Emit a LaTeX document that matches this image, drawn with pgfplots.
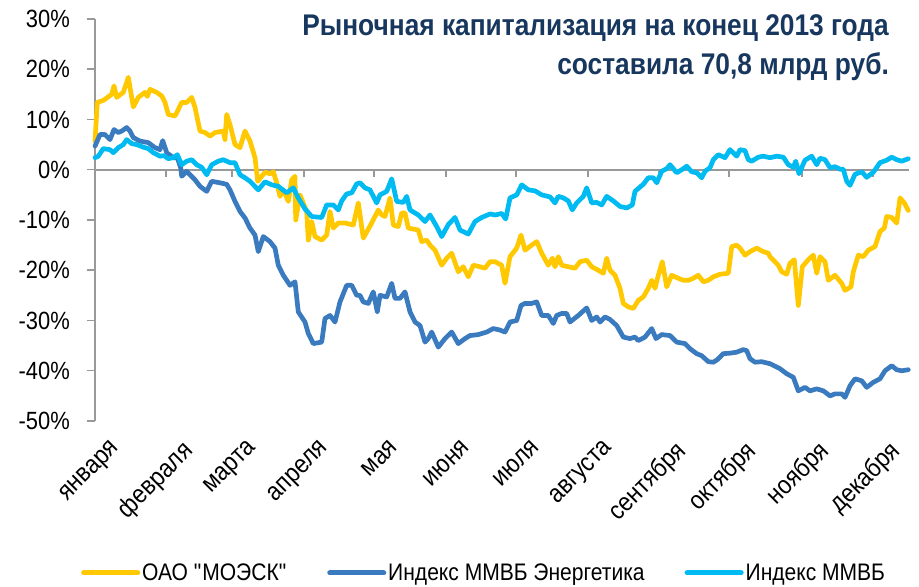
\documentclass[border=0pt]{standalone}
\usepackage{fontspec}
\setmainfont{Liberation Sans}[FakeStretch=0.88]
\usepackage{pgfplots}
\pgfplotsset{compat=1.18}
\definecolor{cY}{HTML}{FFC800}
\definecolor{cB}{HTML}{3A7ABE}
\definecolor{cC}{HTML}{00BAF2}
\definecolor{cT}{HTML}{17375E}
\definecolor{axg}{HTML}{999999}

\pgfplotstableread{
x y
0 5.7
2.3 13.4
8.3 13.8
16.7 15
19 16.7
21.7 14.4
28.3 15.4
33.3 18.4
38.3 12.5
43.3 14.4
50 15.4
52.3 14.6
55 16
61.7 15.4
66.7 14.7
70 13.4
73.3 11
80 10.7
83.3 12
86.7 13.4
91.7 13.4
96.7 14.4
100 12.4
105 7.7
110 7.4
115 6.7
120 7.4
128.3 7.7
130 6
131.7 11
135 9
140 5
145 4.4
150 7.7
155 5.7
160 2.4
162.7 -2.3
166.7 -1.3
170 -0.5
175 -0.8
178.3 -0.4
181.7 -2.6
185 -5.3
188.3 -4
193.3 -6.3
196.7 -2
200 -1.3
200.7 -10
205 -5
211.7 -8.3
213.3 -14
216.7 -10.3
220 -13.3
226.7 -14
231.7 -13
235 -8.3
238.3 -11.6
243.3 -10.6
250 -10.6
258.3 -11
263.3 -6.6
268.3 -13.6
276.7 -10.6
283.3 -8
286.7 -9
290 -9.3
295 -5.6
298.3 -11
303.3 -11.3
306.7 -8.6
310 -8.6
313.3 -11.6
318.3 -11.8
323.3 -12
326.7 -14.3
331.7 -14
335 -15
340 -16
346.7 -19
351.7 -17.6
356.7 -16.6
363.3 -20.3
368.3 -19.3
373.3 -21.3
378.3 -19
385 -19.3
390 -19.6
395 -18.3
400 -18.3
406.7 -19
410 -22.6
415 -17.3
421.7 -15.6
426 -13
430 -16
436.7 -15
441.7 -14.3
446.7 -16.6
453.3 -19
457.3 -17.6
460 -19.3
463.3 -17.3
466.7 -19
473.3 -19.3
480 -19.6
485 -18.3
491.7 -18
496.7 -19.3
503.3 -20
508.3 -20.6
511.7 -17.6
515 -20
520 -21
525 -23.6
528.3 -26.6
533.3 -27.3
538.3 -27.6
543.3 -26
548.3 -25.3
553.3 -23.6
556.7 -22
560 -23.6
563.3 -21
567.3 -18.3
571.7 -23.3
576.7 -21
583.3 -21.6
588.3 -22
593.3 -22
598.3 -21.6
603.3 -21
608.3 -22.3
613.3 -22
618.3 -21.3
625 -20.8
633.3 -20.6
636.7 -15.3
641.7 -15
645 -15.6
650 -17
655 -16.3
661.7 -15.6
668.3 -16.3
673.3 -16.6
675 -17.3
683.3 -19
686.7 -20.3
691.7 -20.8
695 -18.6
699.3 -17.9
703.3 -27
707.3 -19.3
713.3 -17.9
718.3 -17
721.7 -20.6
725 -17.3
730 -18.3
733.3 -22
740 -21
746.7 -22.6
750 -24
756 -23.3
758.3 -20.3
763.3 -17
768.3 -17.3
773.3 -16
780 -15.3
785 -12.3
789.3 -11.6
791.7 -9.3
796.7 -9.5
801.7 -10.6
805 -5.6
809.3 -6.6
813.3 -8.1
}\moesk

\pgfplotstableread{
x y
0 4.7
5 7
10 7
15 6
19 8
23.3 7.4
26.7 7.7
31.7 8.4
35 7.7
38.3 6.4
45 5.7
53.3 5.4
60 4.4
65 4
67.7 5.8
71.7 3.4
78.3 2.4
82.3 2.4
85.7 0.4
86.7 -1.3
91.7 -0.3
95 -1
100 -2
105 -3.3
111.7 -4.3
116.7 -2.3
125 -2.6
131.7 -2.9
135 -4
140 -6.3
145 -8.3
150 -9.6
155 -11.6
160 -13
163.3 -16.3
168.3 -13.3
175 -14.3
180 -15.6
183.3 -19
188.3 -21
195 -23
200 -22.3
203.3 -28.3
210 -30.3
213.3 -32.6
218.3 -34.6
226.7 -34.3
230 -29.6
235 -29
240 -30.3
245 -26.3
251.7 -23
256.7 -23
261.7 -25
265 -25
268.3 -26.3
273.3 -26.6
278.3 -24.3
282.3 -28.3
285 -25
291.7 -25.3
296.7 -22.6
300 -25.6
305 -25.6
310 -24.3
315 -28.3
320 -30.3
325 -31
330 -34.3
333.3 -33.6
336.7 -32.3
343.3 -35.3
350 -33.6
356.7 -32.3
363.3 -34.6
370 -33.6
375 -33
383.3 -32.8
391.7 -32.3
398.3 -31.6
405 -31.9
410 -32.3
415 -30.3
421.7 -30
426 -27
430 -26.6
436.7 -26.6
441.7 -26.3
446.7 -29
453.3 -29
458.3 -30.6
461.7 -29
466.7 -28.6
471.7 -28.6
475 -30.3
483.3 -29
491.7 -27.5
496.7 -30
501.7 -29.3
505 -30.3
510 -29.3
515 -29.8
521.7 -31
528.3 -33.3
535 -33.6
540 -33.3
543.3 -34
550 -33.3
556.7 -31.6
561 -33.6
566.7 -32.8
575 -33
581.7 -34.3
590 -34.6
595 -35.6
601.7 -36.6
606.7 -37
613.3 -38.2
618.3 -38.3
622.3 -37.8
628.3 -36.6
635 -36.5
641.7 -36.3
648.3 -35.8
651.7 -36
655 -37.6
660 -38.3
666.7 -38.2
675 -38.6
685 -39.6
691.7 -40.6
698.3 -41.3
703.3 -44
710 -43.3
715 -44
721.7 -43.6
728.3 -44
735 -45
740 -44.6
746.7 -44.6
750 -45.3
755 -43
760 -41.6
766.7 -42
771.7 -43.3
778.3 -42.3
785 -41.6
790 -40
796.7 -39
801.7 -39.8
806.7 -40
813.3 -39.8
}\energy

\pgfplotstableread{
x y
0 2.4
3.3 2.7
8.3 4.2
15 4
18.3 3.4
23.3 4.4
28.3 5
31.7 6
36.7 5.2
41.7 5
48.3 4.5
53.3 4.2
58.3 3.4
65 2.7
69 2.8
73.3 2.2
78.3 2.4
82.3 3
86.7 1
91.7 1.7
96.7 2
101.7 1
106.7 0.5
111.7 -1
116.7 1
123.3 1.7
128.3 2
135 1.4
140 1.4
145 -1
150 -1.6
155 -2.3
163.3 -4
170 -2.4
176.7 -3
183.3 -3.3
191.7 -4.6
198.3 -3.6
203.3 -5.6
210 -7.8
216.7 -9.3
226.7 -9.5
231.7 -7
238.3 -7
243.3 -8
246.7 -6.2
251.7 -4.8
256.7 -4.6
261.7 -2.8
265 -2.6
270 -3.6
275 -4
281.7 -6.6
285 -5
291.7 -4.3
296.7 -1.8
301.7 -6.3
308.3 -6.5
311.7 -5.3
315 -8
323.3 -9
330 -10.3
335 -9
341.7 -11.3
346.7 -13.3
353.3 -10.9
360 -9.5
365 -12
373.3 -12.8
380 -10.3
386.7 -9.5
395 -8.8
400 -9
406.7 -8.7
410.7 -9.8
415 -5.6
421.7 -5
426.7 -3
433.3 -4
440 -4.2
446.7 -5
455 -5.4
460 -6.6
463.3 -5.3
468.3 -5.6
473.3 -6.2
477.3 -8
481.7 -6.6
488.3 -5.3
491.7 -3.6
496.7 -6.6
501.7 -6.5
506.7 -7
511.7 -5.3
518.3 -6.2
525 -7.3
531.7 -7.6
537.3 -7
540 -4.3
541.7 -4
548.3 -2.9
553.3 -1.6
558.3 -1.6
561.7 -2.6
566.7 -0.3
571.7 0.2
575 1
581.7 -0.6
586.7 0
591.7 0.7
596.7 -0.4
601.7 -0.6
606.7 -1.6
610 -0.3
615 0.4
618.3 2
623.3 3
630 2.4
635 4
641.7 2.7
645 4
650 3.8
653.3 2
656.7 1.7
663.3 2.5
668.3 2.7
675 2.4
681.7 2.7
688.3 2.5
693.3 1
698.3 0.5
700.7 1.7
704 -0.8
710 1.9
716.7 2.7
721.7 1
725 2.3
730 2
735 0.4
740 0.6
745 0.1
748.3 0.1
751.7 -2.3
755 -3.1
760 -0.9
766.7 -0.4
771.7 -1.5
778.3 -0.5
785 1.4
791.7 1.9
796.7 2.5
801.7 2
806.7 1.7
813.3 2.2
}\micex

\begin{document}
\begin{tikzpicture}
\path[use as bounding box] (0bp,0bp) rectangle (919bp,587bp);
\begin{axis}[at={(95bp,166bp)}, anchor=south west, scale only axis,
  width=814bp, height=402bp, xmin=0, xmax=814, ymin=-50, ymax=30,
  xtick={0,71,137,209,279,351,421,493,564,634,707,778},
  axis lines*=left,
  x axis line style={draw=none}, xtick style={draw=none},
  xticklabels={января,февраля,марта,апреля,мая,июня,июля,августа,сентября,октября,ноября,декабря},
  xticklabel style={rotate=45, anchor=north east, font=\fontsize{26}{26}\selectfont, xshift=-2bp, yshift=-23bp, inner sep=0pt},
  ytick={-50,-40,-30,-20,-10,0,10,20,30},
  yticklabels={-50\%,-40\%,-30\%,-20\%,-10\%,0\%,10\%,20\%,30\%},
  yticklabel style={font=\fontsize{25}{25}\selectfont, anchor=east, inner sep=0pt, xshift=-17bp},
  ytick align=outside, major tick length=8bp,
  y axis line style={color=axg, line width=1.5bp},
  ytick style={color=axg, line width=1.5bp},
  legend columns=3,
  legend style={at={(0.478,-0.378)}, anchor=center, draw=none, fill=none,
    font=\fontsize{24}{24}\selectfont, inner sep=0pt,
    /tikz/every even column/.append style={column sep=38bp}},
  legend image code/.code={\draw[#1, line width=5bp, line cap=round] (0bp,0bp) -- (54bp,0bp);},
  legend cell align=left,
  clip=false]
% zero line of the chart and its downward month ticks
\addplot[forget plot, color=axg, line width=2bp, mark=none] coordinates {(0,0) (814,0)};
\addplot[forget plot, color=axg, line width=2bp, ycomb, mark=none] coordinates {
(71,-1.5) (137,-1.5) (209,-1.5) (279,-1.5) (351,-1.5) (421,-1.5)
(493,-1.5) (564,-1.5) (634,-1.5) (707,-1.5) (778,-1.5)};
\addplot[cY, line width=4.7bp, line join=round, line cap=round, mark=none] table {\moesk};
\addlegendentry{ОАО \textquotedbl МОЭСК\textquotedbl}
\addplot[cB, line width=4.7bp, line join=round, line cap=round, mark=none] table {\energy};
\addlegendentry{Индекс ММВБ Энергетика}
\addplot[cC, line width=4.7bp, line join=round, line cap=round, mark=none] table {\micex};
\addlegendentry{Индекс ММВБ}
\end{axis}
\node[anchor=north east, align=right, text=cT, font=\bfseries\fontsize{30}{40}\selectfont, inner sep=0pt] at (889bp,573bp) {Рыночная капитализация на конец 2013 года\\составила 70,8 млрд руб.};
\end{tikzpicture}
\end{document}
